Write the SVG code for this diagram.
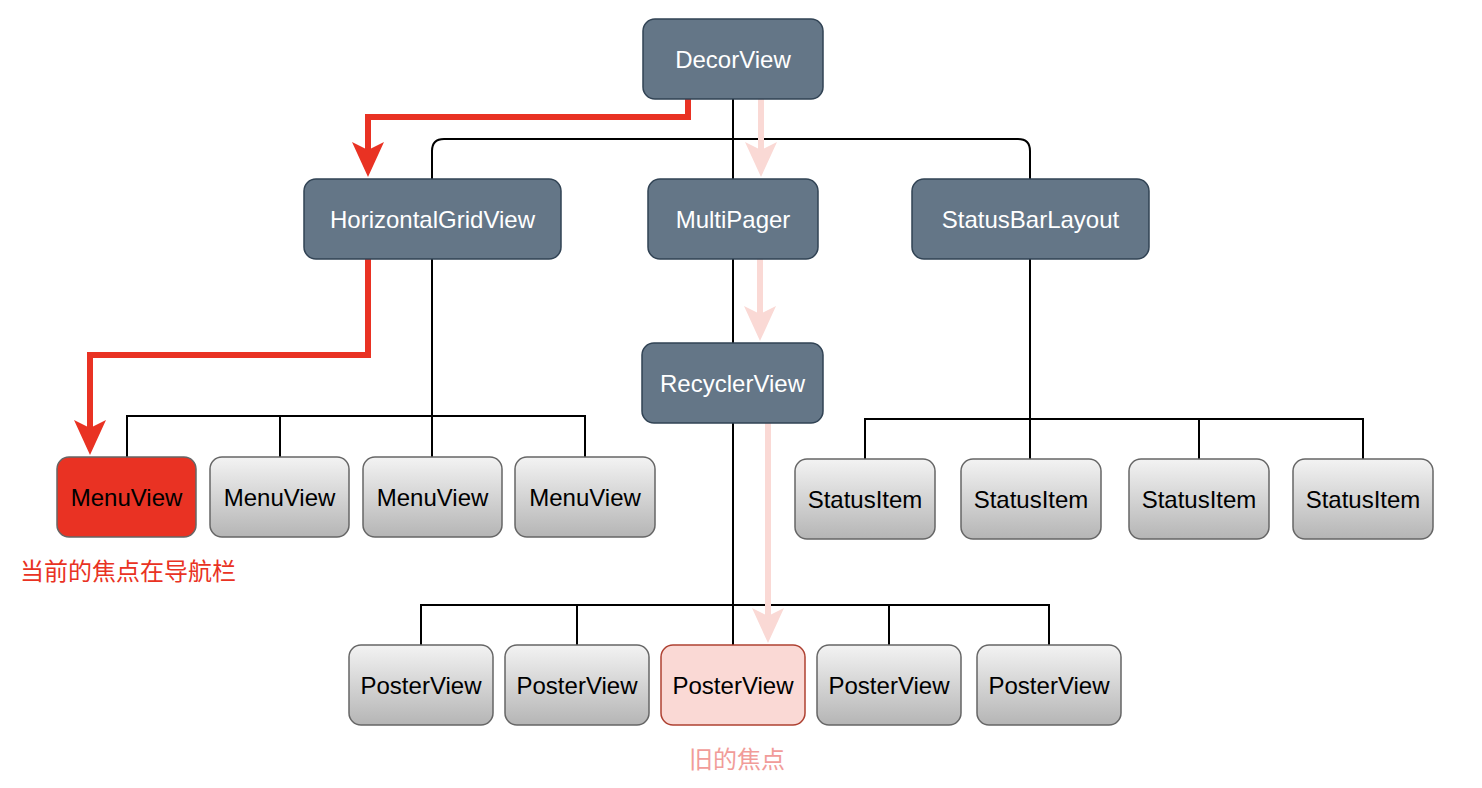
<svg xmlns="http://www.w3.org/2000/svg" width="1482" height="788" viewBox="0 0 1482 788">
<style>
.dark rect{fill:#647687;stroke:#314354;stroke-width:1.5}
.dark text{fill:#ffffff}
.gray rect{fill:url(#g);stroke:#666666;stroke-width:1.5}
text{font-family:"Liberation Sans",Arial,Helvetica,sans-serif;font-size:24px;text-anchor:middle;fill:#000}
.tree{fill:none;stroke:#000;stroke-width:2}
.red{fill:none;stroke:#e93223;stroke-width:6;marker-end:url(#ar)}
.pink{fill:none;stroke:#fad9d5;stroke-width:6;marker-end:url(#ap)}
.cjk{font-family:"Liberation Sans","Noto Sans CJK SC",sans-serif;font-size:24px}
</style>
<defs>
<linearGradient id="g" x1="0" y1="0" x2="0" y2="1">
<stop offset="0" stop-color="#f3f3f3"/>
<stop offset="1" stop-color="#b5b5b5"/>
</linearGradient>
<marker id="ar" markerUnits="userSpaceOnUse" markerWidth="35" markerHeight="32" viewBox="0 0 35 32" refX="8" refY="16" orient="auto">
<path d="M0,0 L35,16 L0,32 L8,16 Z" fill="#e93223"/>
</marker>
<marker id="ap" markerUnits="userSpaceOnUse" markerWidth="35" markerHeight="32" viewBox="0 0 35 32" refX="8" refY="16" orient="auto">
<path d="M0,0 L35,16 L0,32 L8,16 Z" fill="#fad9d5"/>
</marker>
</defs>
<g id="connectors">
<path class="tree" d="M733,99 V179"/>
<path class="tree" d="M432,179 V151 Q432,139 444,139 H1018 Q1030,139 1030,151 V179"/>
<path class="tree" d="M432,259 V416 M127,457 V416 H585 V457 M280,416 V457 M432,416 V457"/>
<path class="tree" d="M733,259 V343"/>
<path class="tree" d="M733,423 V645 M421,645 V605 H1049 V645 M577,605 V645 M889,605 V645"/>
<path class="tree" d="M1030,259 V459 M865,459 V419 H1363 V459 M1199,419 V459"/>
<path class="red" d="M688,99 V117 H368 V150"/>
<path class="red" d="M368,259 V355 H90 V428"/>
<path class="pink" d="M761,99 V150"/>
<path class="pink" d="M760,259 V314"/>
<path class="pink" d="M768,423 V616"/>
</g>
<g id="decorview" class="dark"><rect x="643" y="19" width="180" height="80" rx="12"/><text x="733" y="67.5">DecorView</text></g>
<g id="horizontalgridview" class="dark"><rect x="304" y="179" width="257" height="80" rx="12"/><text x="432.5" y="227.5">HorizontalGridView</text></g>
<g id="multipager" class="dark"><rect x="648" y="179" width="170" height="80" rx="12"/><text x="733" y="227.5">MultiPager</text></g>
<g id="statusbarlayout" class="dark"><rect x="912" y="179" width="237" height="80" rx="12"/><text x="1030.5" y="227.5">StatusBarLayout</text></g>
<g id="recyclerview" class="dark"><rect x="642" y="343" width="181" height="80" rx="12"/><text x="732.5" y="391.5">RecyclerView</text></g>
<g id="menuview1"><rect x="57" y="457" width="139" height="80" rx="12" fill="#e93223" stroke="#666666" stroke-width="1.5"/><text x="126.5" y="505.5">MenuView</text></g>
<g id="menuview2" class="gray"><rect x="210" y="457" width="139" height="80" rx="12"/><text x="279.5" y="505.5">MenuView</text></g>
<g id="menuview3" class="gray"><rect x="363" y="457" width="139" height="80" rx="12"/><text x="432.5" y="505.5">MenuView</text></g>
<g id="menuview4" class="gray"><rect x="515" y="457" width="140" height="80" rx="12"/><text x="585" y="505.5">MenuView</text></g>
<g id="statusitem1" class="gray"><rect x="795" y="459" width="140" height="80" rx="12"/><text x="865" y="507.5">StatusItem</text></g>
<g id="statusitem2" class="gray"><rect x="961" y="459" width="140" height="80" rx="12"/><text x="1031" y="507.5">StatusItem</text></g>
<g id="statusitem3" class="gray"><rect x="1129" y="459" width="140" height="80" rx="12"/><text x="1199" y="507.5">StatusItem</text></g>
<g id="statusitem4" class="gray"><rect x="1293" y="459" width="140" height="80" rx="12"/><text x="1363" y="507.5">StatusItem</text></g>
<g id="posterview1" class="gray"><rect x="349" y="645" width="144" height="80" rx="12"/><text x="421" y="693.5">PosterView</text></g>
<g id="posterview2" class="gray"><rect x="505" y="645" width="144" height="80" rx="12"/><text x="577" y="693.5">PosterView</text></g>
<g id="posterview3"><rect x="661" y="645" width="144" height="80" rx="12" fill="#fad9d5" stroke="#ae4132" stroke-width="1.5"/><text x="733" y="693.5">PosterView</text></g>
<g id="posterview4" class="gray"><rect x="817" y="645" width="144" height="80" rx="12"/><text x="889" y="693.5">PosterView</text></g>
<g id="posterview5" class="gray"><rect x="977" y="645" width="144" height="80" rx="12"/><text x="1049" y="693.5">PosterView</text></g>
<g id="label-current"><text class="cjk" x="128" y="580" style="fill:#e93223">当前的焦点在导航栏</text></g>
<g id="label-old"><text class="cjk" x="737" y="768" style="fill:#f19c99">旧的焦点</text></g>
</svg>
